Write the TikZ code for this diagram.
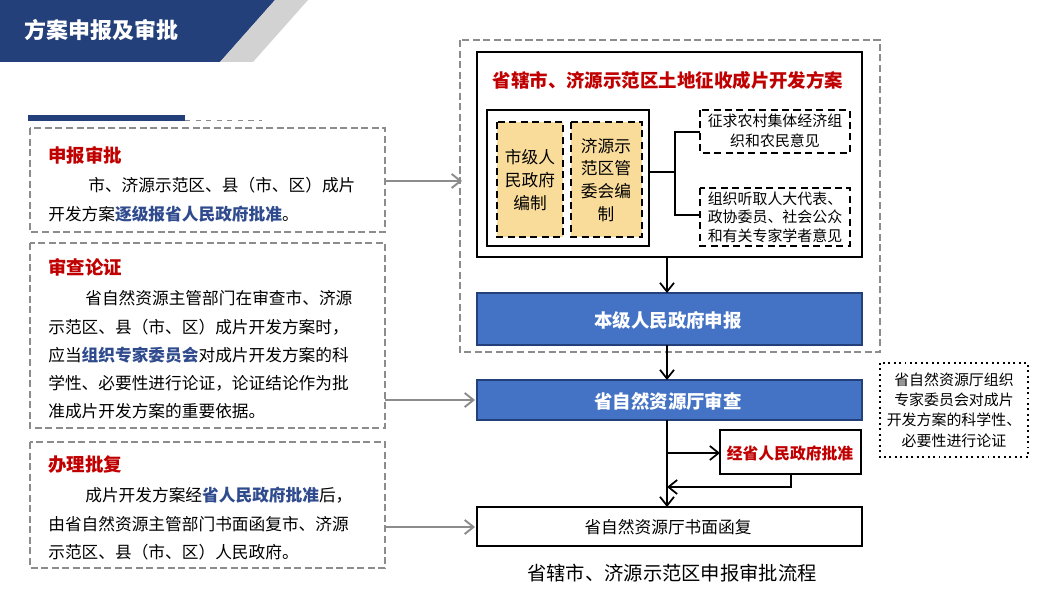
\documentclass[tikz,border=0pt]{standalone}
\usepackage{fontspec}
\setmainfont{Noto Sans CJK SC}
\usetikzlibrary{arrows.meta}
\definecolor{navy}{HTML}{24407A}
\definecolor{hblue}{HTML}{2F4B8E}
\definecolor{rred}{HTML}{C00000}
\definecolor{fblue}{HTML}{4472C4}
\definecolor{yel}{HTML}{F9DC9A}
\definecolor{gr}{HTML}{8C8C8C}
\begin{document}
\begin{tikzpicture}[x=0.02cm,y=-0.02cm,
  txt/.style={font=\fontsize{9.5}{12}\selectfont,inner sep=0,anchor=west},
  ttl/.style={font=\fontsize{10.5}{12}\bfseries\selectfont,text=rred,inner sep=0,anchor=west},
  lbox/.style={draw=gr,dashed,line width=1.3pt,dash pattern=on 4pt off 2pt},
  sbox/.style={draw=black,line width=1.1pt},
  bbox/.style={draw=navy,fill=fblue,line width=1.1pt},
  ddbox/.style={draw=black,line width=1.1pt,dash pattern=on 4pt off 2.5pt},
  arr/.style={line width=1pt,-{Straight Barb[length=5pt,width=8pt]}},
  garr/.style={draw=gr,line width=1.1pt,-{Straight Barb[length=5pt,width=8pt]}},
  ln/.style={line width=1pt}]
\useasboundingbox (0,0) rectangle (1052,598);
% header
\fill[navy] (0,0) -- (275,0) -- (220,62) -- (0,62) -- cycle;
\fill[gray!35] (275,0) -- (308,0) -- (253,62) -- (220,62) -- cycle;
\node[font=\fontsize{12.5}{14}\bfseries\selectfont,text=white,anchor=west,inner sep=0] (title) at (24,30) {方案申报及审批};
\draw[navy,line width=3.5pt] (28,118) -- (185,118);
\draw[gr,dashed,line width=0.4pt] (185,120) -- (262,120);
% left boxes
\draw[lbox] (30,128) rectangle (385,232);
\node[ttl] (t1) at (48,155) {申报审批};
\node[txt] (l11) at (88,185) {市、济源示范区、县（市、区）成片};
\node[txt] (l12) at (48,214) {开发方案\textcolor{hblue}{\bfseries 逐级报省人民政府批准}。};
\draw[lbox] (30,243) rectangle (385,428);
\node[ttl] (t2) at (48,267) {审查论证};
\node[txt] (l21) at (85,298) {省自然资源主管部门在审查市、济源};
\node[txt] (l22) at (48,327) {示范区、县（市、区）成片开发方案时，};
\node[txt] (l23) at (48,355) {应当\textcolor{hblue}{\bfseries 组织专家委员会}对成片开发方案的科};
\node[txt] (l24) at (48,383) {学性、必要性进行论证，论证结论作为批};
\node[txt] (l25) at (48,411) {准成片开发方案的重要依据。};
\draw[lbox] (30,442) rectangle (385,568);
\node[ttl] (t3) at (48,465) {办理批复};
\node[txt] (l31) at (85,495) {成片开发方案经\textcolor{hblue}{\bfseries 省人民政府批准}后，};
\node[txt] (l32) at (48,524) {由省自然资源主管部门书面函复市、济源};
\node[txt] (l33) at (48,552) {示范区、县（市、区）人民政府。};
% right flow
\draw[lbox] (460,40) rectangle (880,352);
\draw[sbox,fill=white] (477,52) rectangle (862,257);
\node[ttl,anchor=center] (plan) at (668,80) {省辖市、济源示范区土地征收成片开发方案};
\draw[sbox] (487,110) rectangle (649,246);
\coordinate (inR) at (649,172);
\draw[ddbox,fill=yel] (497,122) rectangle (563,237);
\node[txt,anchor=center,align=center,font=\fontsize{9.5}{13}\selectfont] (a) at (530,180) {市级人\\民政府\\编制};
\draw[ddbox,fill=yel] (571,122) rectangle (642,237);
\node[txt,anchor=center,align=center,font=\fontsize{9.5}{13}\selectfont] (b) at (606,180) {济源示\\范区管\\委会编\\制};
\draw[ddbox] (700,110) rectangle (850,153);
\node[txt,anchor=center,align=center,font=\fontsize{8.5}{11}\selectfont] (c) at (775,131) {征求农村集体经济组\\织和农民意见};
\draw[ddbox] (700,188) rectangle (850,246);
\node[txt,anchor=center,align=center,font=\fontsize{8.5}{10.5}\selectfont] (d) at (775,217) {组织听取人大代表、\\政协委员、社会公众\\和有关专家学者意见};
\draw[ln] (inR) -- (675,172);
\draw[ln] (700,132) -- (675,132) -- (675,215) -- (700,215);
\coordinate (p1) at (667,257);
\draw[bbox] (477,293) rectangle (862,345);
\node[ttl,anchor=center,text=white] (s1) at (668,320) {本级人民政府申报};
\coordinate (p2) at (667,293);
\draw[arr] (p1) -- (p2);
\draw[bbox] (477,380) rectangle (862,420);
\node[ttl,anchor=center,text=white] (s2) at (668,401) {省自然资源厅审查};
\draw[arr] (667,345) -- (667,380);
\draw[sbox] (720,430) rectangle (861,474);
\node[ttl,anchor=center,font=\fontsize{9}{12}\bfseries\selectfont] (s3) at (790,453) {经省人民政府批准};
\draw[sbox] (477,507) rectangle (862,546);
\node[txt,anchor=center] (s4) at (668,527) {省自然资源厅书面函复};
\draw[arr] (667,420) -- (667,507);
\draw[arr] (667,453) -- (720,453);
\draw[arr] (791,474) -- (791,487) -- (667,487);
\node[txt,anchor=center,font=\fontsize{11}{13}\selectfont] (cap) at (672,573) {省辖市、济源示范区申报审批流程};
\draw[line width=1.1pt,dotted] (880,363) rectangle (1028,457);
\node[txt,anchor=center,align=center,font=\fontsize{8.5}{11.5}\selectfont] (note) at (954,410) {省自然资源厅组织\\专家委员会对成片\\开发方案的科学性、\\必要性进行论证};
% gray arrows
\draw[garr] (385,181) -- (462,181);
\draw[garr] (385,400) -- (475,400);
\draw[garr] (385,527) -- (475,527);
\end{tikzpicture}
\end{document}
